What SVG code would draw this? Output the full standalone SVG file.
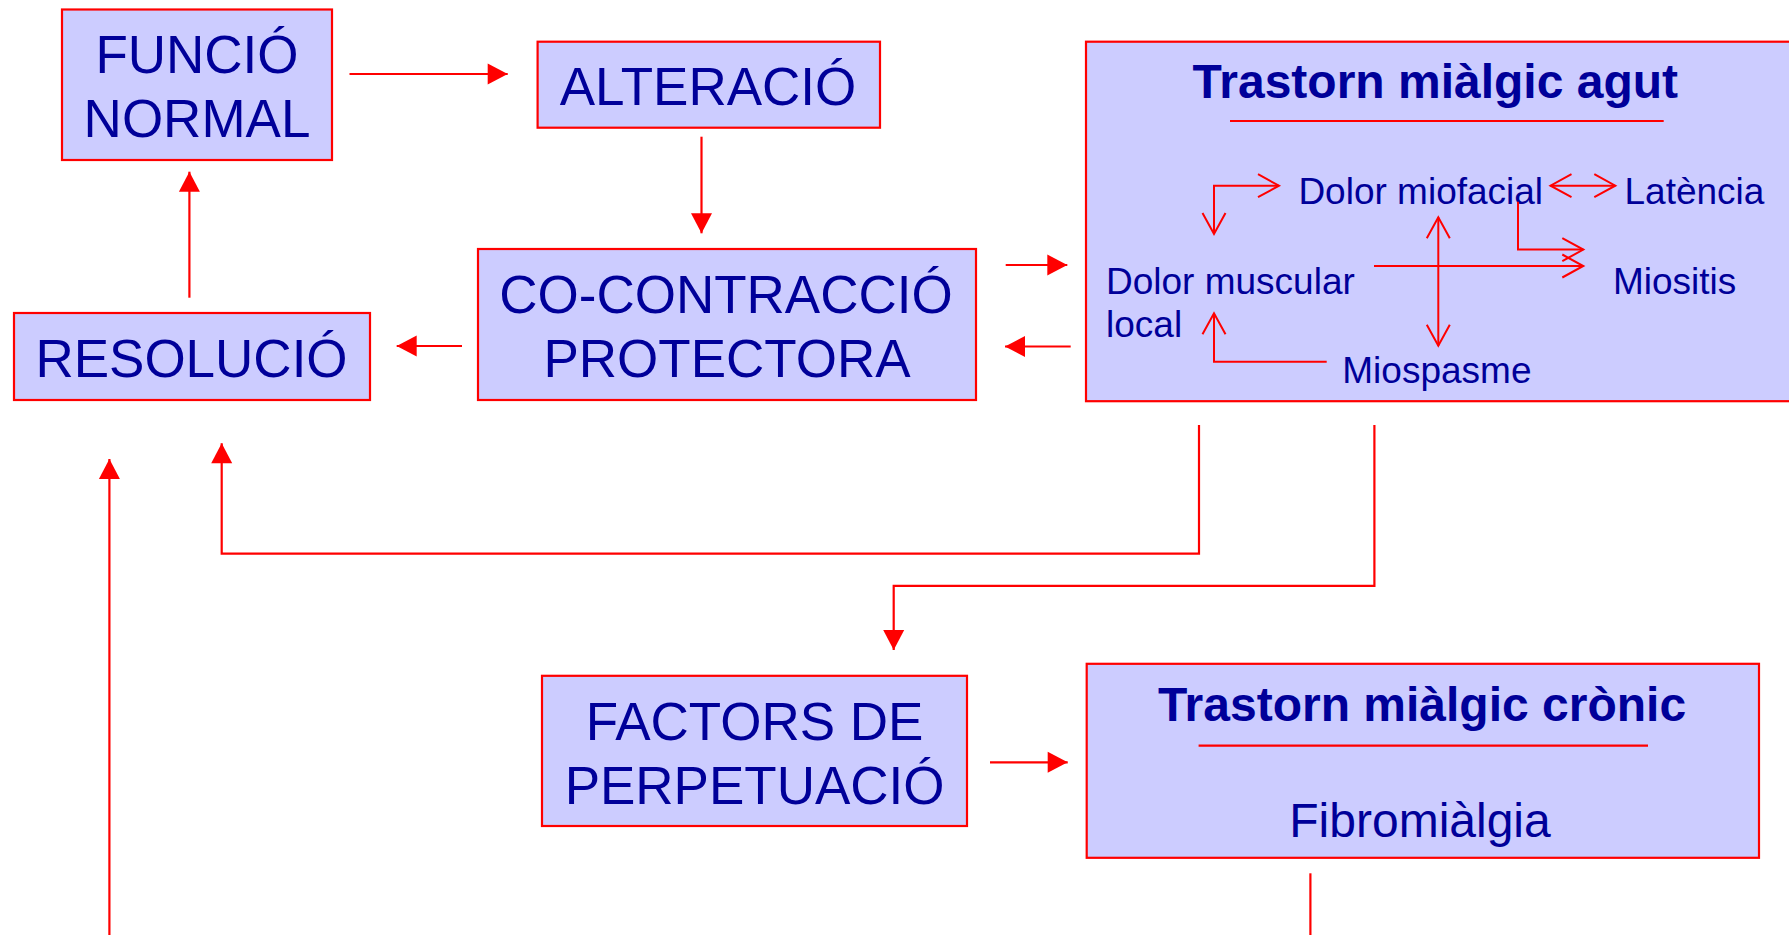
<svg xmlns="http://www.w3.org/2000/svg" width="1789" height="935" viewBox="0 0 1789 935">
<style>
.box{fill:#CCCCFF;stroke:#FF0000;stroke-width:2.2}
.t{font-family:"Liberation Sans",Arial,sans-serif;fill:#000099;text-anchor:middle}
.big{font-size:53px}
.title{font-size:48px;font-weight:bold}
.mid{font-size:48px}
.small{font-size:37px;text-anchor:start}
.ln{fill:none;stroke:#FF0000;stroke-width:2.2}
.thin{fill:none;stroke:#FF0000;stroke-width:2}
.arr{marker-end:url(#fa)}
.oa{marker-end:url(#oa)}
.oa2{marker-start:url(#oa);marker-end:url(#oa)}
</style>
<defs>
<marker id="fa" markerUnits="userSpaceOnUse" markerWidth="22" markerHeight="22" refX="20" refY="10.5" orient="auto" overflow="visible">
<path d="M0,0 L20,10.5 L0,21 z" fill="#FF0000"/>
</marker>
<marker id="oa" markerUnits="userSpaceOnUse" markerWidth="24" markerHeight="25" refX="21" refY="11.5" orient="auto-start-reverse" overflow="visible">
<path d="M0,0 L21,11.5 L0,23" fill="none" stroke="#FF0000" stroke-width="2"/>
</marker>
</defs>

<g id="funcio-normal">
<rect class="box" x="62" y="9.5" width="270" height="150.5"/>
<text class="t big" x="197" y="72.7">FUNCIÓ</text>
<text class="t big" x="197" y="136.7">NORMAL</text>
</g>

<g id="alteracio">
<rect class="box" x="537.6" y="41.7" width="342.4" height="86"/>
<text class="t big" x="708" y="105">ALTERACIÓ</text>
</g>

<g id="co-contraccio">
<rect class="box" x="478" y="249" width="498" height="151"/>
<text class="t big" x="726" y="313.3">CO-CONTRACCIÓ</text>
<text class="t big" x="727" y="376.7">PROTECTORA</text>
</g>

<g id="resolucio">
<rect class="box" x="14" y="313" width="356" height="87"/>
<text class="t big" x="191.5" y="376.7">RESOLUCIÓ</text>
</g>

<g id="trastorn-agut">
<rect class="box" x="1086" y="41.7" width="720" height="359.5"/>
<text class="t title" x="1435.3" y="98.3">Trastorn miàlgic agut</text>
<line class="ln" x1="1230" y1="121" x2="1663.7" y2="121"/>
<text class="t small" x="1298.4" y="204.3">Dolor miofacial</text>
<text class="t small" x="1624.5" y="204.3">Latència</text>
<text class="t small" x="1106" y="294.3">Dolor muscular</text>
<text class="t small" x="1106" y="337">local</text>
<text class="t small" x="1613" y="294.3">Miositis</text>
<text class="t small" x="1342.3" y="383.3">Miospasme</text>
<g id="agut-inner-arrows">
<path class="thin oa2" d="M1279,185.7 L1214,185.7 L1214,234"/>
<path class="thin oa2" d="M1550.5,185.7 L1615.3,185.7"/>
<path class="thin oa2" d="M1438.3,217.3 L1438.3,345.7"/>
<path class="thin oa" d="M1374,266 L1583.3,266"/>
<path class="thin oa" d="M1518,201.7 L1518,249.6 L1583.3,249.6"/>
<path class="thin oa" d="M1326.7,361.7 L1214,361.7 L1214,313.3"/>
</g>
</g>

<g id="factors-perpetuacio">
<rect class="box" x="542" y="675.8" width="425" height="150.2"/>
<text class="t big" x="754.6" y="740">FACTORS DE</text>
<text class="t big" x="754.6" y="804.4">PERPETUACIÓ</text>
</g>

<g id="trastorn-cronic">
<rect class="box" x="1086.7" y="663.8" width="672.3" height="194"/>
<text class="t title" x="1422" y="721">Trastorn miàlgic crònic</text>
<line class="ln" x1="1198.6" y1="745.7" x2="1648" y2="745.7"/>
<text class="t mid" x="1420" y="837">Fibromiàlgia</text>
</g>

<g id="connectors">
<path class="ln arr" d="M349.5,74 L507.7,74"/>
<path class="ln arr" d="M701.5,136.7 L701.5,233.3"/>
<path class="ln arr" d="M462,346 L396.7,346"/>
<path class="ln arr" d="M189.4,297.7 L189.4,171.7"/>
<path class="ln arr" d="M1005.7,265 L1067.3,265"/>
<path class="ln arr" d="M1070.7,346.5 L1005,346.5"/>
<path class="ln arr" d="M1199,424.9 L1199,553.6 L221.7,553.6 L221.7,443.3"/>
<path class="ln arr" d="M1374.4,425 L1374.4,585.8 L893.7,585.8 L893.7,650"/>
<path class="ln arr" d="M109.4,935 L109.4,459"/>
<path class="ln arr" d="M990,762.3 L1067.7,762.3"/>
<path class="ln" d="M1310.4,873.3 L1310.4,935"/>
</g>
</svg>
